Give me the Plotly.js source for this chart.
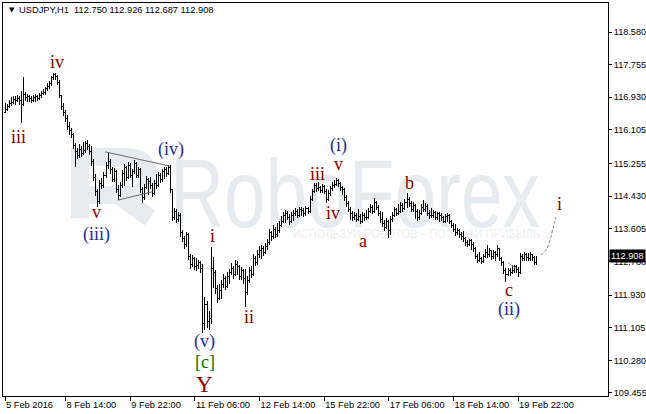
<!DOCTYPE html>
<html><head><meta charset="utf-8">
<script src="https://cdn.plot.ly/plotly-3.0.1.min.js"></script>
<style>html,body{margin:0;padding:0;background:#fff;}#chart{width:646px;height:414px;}.ohlc path{shape-rendering:crispEdges;}</style>
</head><body><div id="chart"></div>
<script>
// ---------- DATA ----------
const symbolName = "USDJPY,H1";
const lastQuote = [112.750, 112.926, 112.687, 112.908]; // open, high, low, close of the last bar

const barOpen = [
116.55,116.62,116.70,116.78,116.80,116.88,116.84,116.90,116.86,116.75,
117.00,116.92,116.95,116.90,116.86,116.92,116.95,116.90,116.98,117.02,
117.05,117.15,117.20,117.28,117.42,117.50,117.45,117.30,116.98,116.70,
116.55,116.40,116.20,116.10,115.98,115.70,115.55,115.45,115.62,115.50,
115.58,115.75,115.68,115.55,115.30,114.90,114.55,114.30,114.75,114.70,
114.95,115.20,115.30,115.10,114.85,115.05,114.60,114.45,114.70,115.00,
115.15,114.90,115.20,114.95,115.05,115.25,114.95,115.10,114.60,114.40,
114.65,114.85,114.80,114.70,114.50,114.75,114.70,114.95,114.85,115.05,
115.10,115.00,115.15,114.60,113.90,114.05,113.85,113.95,113.50,113.35,
113.20,113.45,112.90,112.70,112.85,112.65,112.68,112.75,112.60,111.20,
111.70,111.25,111.35,112.60,112.50,112.10,111.85,112.05,112.20,112.35,
112.15,112.40,112.50,112.60,112.45,112.70,112.65,112.40,112.55,112.35,
112.00,112.30,112.55,112.45,112.85,112.75,112.95,113.05,113.10,113.00,
113.15,113.25,113.50,113.40,113.60,113.45,113.55,113.70,113.80,113.95,
114.00,113.90,113.80,113.95,114.00,114.05,113.95,114.10,114.08,113.98,
114.12,114.05,114.35,114.55,114.70,114.62,114.65,114.58,114.68,114.55,
114.35,114.50,114.62,114.70,114.72,114.82,114.75,114.65,114.60,114.40,
114.25,114.10,114.00,113.88,113.95,113.85,113.92,113.80,113.95,113.88,
113.90,114.05,114.15,114.05,114.28,114.15,114.00,113.85,113.75,113.65,
113.80,113.55,113.85,113.95,114.10,114.00,114.05,114.20,114.12,114.28,
114.35,114.25,114.10,114.20,114.05,113.90,114.00,114.15,114.10,114.18,
114.00,113.95,113.95,114.02,113.90,113.98,113.95,113.88,113.80,113.92,
113.95,113.80,113.70,113.60,113.50,113.55,113.45,113.40,113.35,113.25,
113.20,113.30,113.22,113.10,112.90,112.80,112.85,112.78,112.90,113.00,
112.95,113.05,112.90,113.00,112.95,113.10,112.85,112.75,112.55,112.45,
112.55,112.50,112.55,112.65,112.58,112.50,112.90,112.85,112.95,112.88,
112.85,112.95,112.88,112.750];

const barHigh = [
116.78,116.76,116.86,116.94,116.96,116.95,117.00,116.96,117.08,117.44,
117.06,117.02,117.00,116.96,116.99,117.02,117.00,117.04,117.08,117.15,
117.20,117.28,117.34,117.48,117.55,117.54,117.50,117.36,117.00,116.78,
116.62,116.48,116.30,116.15,116.02,115.78,115.66,115.75,115.70,115.80,
115.82,115.84,115.74,115.70,115.36,114.98,114.62,114.84,114.88,115.04,
115.30,115.55,115.38,115.16,115.14,115.10,114.72,114.78,115.10,115.24,
115.20,115.30,115.26,115.12,115.34,115.30,115.18,115.14,114.66,114.74,
114.94,114.90,114.92,114.76,114.84,115.00,115.04,115.02,115.12,115.18,
115.16,115.22,115.22,114.62,114.12,114.10,114.04,114.00,113.58,113.42,
113.52,113.50,112.98,112.94,112.90,112.86,112.82,112.80,112.72,111.88,
111.78,111.52,113.14,112.89,112.56,112.18,112.20,112.30,112.46,112.42,
112.52,112.58,112.74,112.66,112.82,112.78,112.70,112.64,112.60,112.60,
112.40,112.64,112.66,112.96,112.92,113.06,113.16,113.20,113.16,113.24,
113.34,113.60,113.56,113.70,113.66,113.75,113.80,113.92,114.04,114.08,
114.06,113.98,114.04,114.08,114.14,114.10,114.16,114.16,114.12,114.18,
114.16,114.44,114.62,114.76,114.76,114.78,114.70,114.74,114.72,114.60,
114.58,114.70,114.78,114.84,114.89,114.86,114.80,114.70,114.64,114.46,
114.30,114.16,114.06,114.04,114.00,114.10,113.98,114.04,114.00,114.08,
114.12,114.24,114.20,114.38,114.32,114.20,114.06,114.02,113.82,113.88,
113.84,113.94,114.04,114.16,114.14,114.24,114.28,114.26,114.36,114.51,
114.40,114.30,114.28,114.24,114.10,114.08,114.22,114.33,114.26,114.22,
114.08,114.12,114.08,114.06,114.04,114.02,114.00,113.94,113.98,114.00,
113.98,113.84,113.76,113.72,113.62,113.60,113.52,113.56,113.40,113.32,
113.36,113.34,113.26,113.14,112.96,113.02,112.90,112.98,113.10,113.20,
113.12,113.08,113.08,113.04,113.20,113.12,112.90,112.80,112.62,112.62,
112.62,112.68,112.70,112.69,112.64,113.00,112.98,113.02,113.00,113.00,
113.02,112.98,112.92,112.926];

const barLow = [
116.52,116.58,116.66,116.72,116.76,116.74,116.80,116.74,116.28,116.72,
116.84,116.80,116.82,116.78,116.82,116.81,116.84,116.86,116.92,116.98,
117.00,117.10,117.14,117.22,117.36,117.36,117.24,116.90,116.62,116.45,
116.30,116.10,115.98,115.90,115.62,115.17,115.36,115.40,115.42,115.46,
115.52,115.60,115.46,115.20,114.82,114.44,114.15,114.24,114.60,114.64,
114.90,115.12,115.00,114.78,114.80,114.50,114.33,114.40,114.64,114.70,
114.82,114.86,114.88,114.66,115.00,114.88,114.90,114.52,114.25,114.34,
114.60,114.46,114.62,114.41,114.46,114.62,114.66,114.76,114.80,114.86,
114.92,114.96,114.51,113.80,113.84,113.76,113.78,113.40,113.26,113.10,
113.14,112.82,112.60,112.64,112.56,112.55,112.60,112.49,110.97,111.05,
111.10,111.05,111.20,112.10,111.96,111.73,111.80,111.82,112.12,112.06,
112.10,112.20,112.44,112.34,112.40,112.44,112.30,112.32,112.22,111.63,
111.92,112.24,112.36,112.40,112.66,112.70,112.88,112.84,112.92,112.96,
113.08,113.20,113.30,113.36,113.38,113.40,113.50,113.64,113.74,113.76,
113.82,113.70,113.74,113.80,113.94,113.88,113.90,113.92,113.90,113.94,
113.98,114.00,114.30,114.50,114.54,114.56,114.51,114.52,114.48,114.26,
114.30,114.44,114.56,114.64,114.68,114.66,114.56,114.46,114.32,114.16,
114.02,113.83,113.80,113.82,113.78,113.80,113.72,113.76,113.80,113.84,
113.86,114.00,113.98,114.00,114.08,113.92,113.76,113.66,113.56,113.60,
113.37,113.46,113.78,113.90,113.92,113.96,114.00,114.04,114.08,114.14,
114.16,114.02,114.04,113.86,113.80,113.84,113.96,114.02,114.04,113.92,
113.86,113.88,113.88,113.82,113.84,113.78,113.80,113.74,113.76,113.78,
113.72,113.62,113.52,113.42,113.44,113.38,113.32,113.28,113.18,113.14,
113.16,113.08,113.02,112.84,112.74,112.76,112.72,112.74,112.86,112.88,
112.90,112.82,112.84,112.78,112.90,112.78,112.66,112.46,112.26,112.40,
112.42,112.46,112.50,112.50,112.39,112.46,112.78,112.80,112.80,112.78,
112.80,112.80,112.68,112.687];

const barClose = [
116.62,116.70,116.78,116.80,116.88,116.84,116.90,116.86,116.75,117.00,
116.92,116.95,116.90,116.86,116.92,116.95,116.90,116.98,117.02,117.05,
117.15,117.20,117.28,117.42,117.50,117.45,117.30,116.98,116.70,116.55,
116.40,116.20,116.10,115.98,115.70,115.55,115.45,115.62,115.50,115.58,
115.75,115.68,115.55,115.30,114.90,114.55,114.30,114.75,114.70,114.95,
115.20,115.30,115.10,114.85,115.05,114.60,114.45,114.70,115.00,115.15,
114.90,115.20,114.95,115.05,115.25,114.95,115.10,114.60,114.40,114.65,
114.85,114.80,114.70,114.50,114.75,114.70,114.95,114.85,115.05,115.10,
115.00,115.15,114.60,113.90,114.05,113.85,113.95,113.50,113.35,113.20,
113.45,112.90,112.70,112.85,112.65,112.68,112.75,112.60,111.20,111.70,
111.25,111.35,112.60,112.50,112.10,111.85,112.05,112.20,112.35,112.15,
112.40,112.50,112.60,112.45,112.70,112.65,112.40,112.55,112.35,112.00,
112.30,112.55,112.45,112.85,112.75,112.95,113.05,113.10,113.00,113.15,
113.25,113.50,113.40,113.60,113.45,113.55,113.70,113.80,113.95,114.00,
113.90,113.80,113.95,114.00,114.05,113.95,114.10,114.08,113.98,114.12,
114.05,114.35,114.55,114.70,114.62,114.65,114.58,114.68,114.55,114.35,
114.50,114.62,114.70,114.72,114.82,114.75,114.65,114.60,114.40,114.25,
114.10,114.00,113.88,113.95,113.85,113.92,113.80,113.95,113.88,113.90,
114.05,114.15,114.05,114.28,114.15,114.00,113.85,113.75,113.65,113.80,
113.55,113.85,113.95,114.10,114.00,114.05,114.20,114.12,114.28,114.35,
114.25,114.10,114.20,114.05,113.90,114.00,114.15,114.10,114.18,114.00,
113.95,113.95,114.02,113.90,113.98,113.95,113.88,113.80,113.92,113.95,
113.80,113.70,113.60,113.50,113.55,113.45,113.40,113.35,113.25,113.20,
113.30,113.22,113.10,112.90,112.80,112.85,112.78,112.90,113.00,112.95,
113.05,112.90,113.00,112.95,113.10,112.85,112.75,112.55,112.45,112.55,
112.50,112.55,112.65,112.58,112.50,112.90,112.85,112.95,112.88,112.85,
112.95,112.88,112.75,112.908];

// time-axis labels (bar index of each label) and price-axis ticks
const timeTickBars = [0, 30, 62, 94, 126, 158, 190, 222, 254];
const timeTickLabels = ["5 Feb 2016","8 Feb 14:00","9 Feb 22:00","11 Feb 06:00","12 Feb 14:00","15 Feb 22:00","17 Feb 06:00","18 Feb 14:00","19 Feb 22:00"];
const priceTicks = [109.455,110.280,111.105,111.930,112.780,113.605,114.430,115.255,116.105,116.930,117.755,118.580];

// wave-count labels: text, bar index, price
const waveText  = ["iii","iv","v","(iii)","(iv)","i","(v)","[c]","Y","ii","(i)","iii","v","iv","a","b","c","(ii)","i"];
const waveBar   = [6.9,25.7,45.5,45.5,82.2,102.5,99.0,99.0,99.0,120.8,164.9,154.5,165.3,162.4,177.2,200.0,249.5,249.5,274.3];
const wavePrice = [115.93,117.82,114.03,113.46,115.61,113.42,110.76,110.23,109.68,111.38,115.71,114.99,115.24,114.00,113.30,114.76,112.05,111.57,114.23];
const waveDegree= ["m","m","m","p","p","m","p","g","y","m","p","m","m","m","m","m","m","p","m"];

// drawn lines (bar index, price)
const triUpperBar = [49.5, 81.7],  triUpperPrice = [115.55, 115.19];
const triLowerBar = [55.9, 72.8],  triLowerPrice = [114.33, 114.54];
const fcBar   = [265.3, 267.8, 269.8, 271.3, 272.8];
const fcPrice = [112.94, 113.07, 113.32, 113.62, 113.90];
const smallBar = [249, 253], smallPrice = [112.74, 112.61];

// watermark
const brandText = "RoboForex";
const sloganText = "ИСПОЛЬЗУЙ РОБОТОВ – ПОЛУЧАЙ ПРИБЫЛЬ";

// ---------- CHART ----------
const barIdx = barClose.map((_, i) => i);
const L = 3, T = 3, W = 605, H = 393;
const px = x => (x - L) / W;
const py = y => 1 - (y - T) / H;

const RED = '#8b0000', BLUE = '#1f2d96', GREEN = '#007000';
const degreeColor = {m: RED, p: BLUE, g: GREEN, y: RED};

const traces = [
  {type:'ohlc', x:barIdx, open:barOpen, high:barHigh, low:barLow, close:barClose,
   increasing:{line:{color:'#000', width:1}}, decreasing:{line:{color:'#000', width:1}},
   tickwidth:0.5, hoverinfo:'skip', showlegend:false},
  {type:'scatter', mode:'lines', x:triUpperBar, y:triUpperPrice, line:{color:'#6e6e6e', width:1}, hoverinfo:'skip', showlegend:false},
  {type:'scatter', mode:'lines', x:triLowerBar, y:triLowerPrice, line:{color:'#6e6e6e', width:1}, hoverinfo:'skip', showlegend:false},
  {type:'scatter', mode:'lines', x:fcBar, y:fcPrice, line:{color:'#808080', width:1, dash:'3px,2px', shape:'spline'}, hoverinfo:'skip', showlegend:false},
  {type:'scatter', mode:'lines', x:smallBar, y:smallPrice, line:{color:'#909090', width:1}, hoverinfo:'skip', showlegend:false}
];

const annotations = waveText.map((t, k) => ({
  x: waveBar[k], y: wavePrice[k], xref:'x', yref:'y', text: t, showarrow:false,
  xanchor:'center', yanchor:'middle',
  font:{family:'Liberation Serif, Times New Roman, serif', size: waveDegree[k]==='y' ? 23 : 18, color: degreeColor[waveDegree[k]]}
}));

annotations.push(
  {xref:'paper', yref:'paper', x:px(7), y:py(10.5), xanchor:'left', yanchor:'middle', showarrow:false,
   text:'\u25BC', font:{family:'DejaVu Sans, sans-serif', size:7, color:'#000'}},
  {xref:'paper', yref:'paper', x:px(17), y:py(10), xanchor:'left', yanchor:'middle', showarrow:false,
   text: symbolName + '\u00a0\u00a0' + lastQuote.map(v => v.toFixed(3)).join(' '),
   font:{family:'Liberation Sans, Arial, sans-serif', size:9.3, color:'#000'}},
  {xref:'paper', yref:'y', x:1, xshift:1, y:lastQuote[3], xanchor:'left', yanchor:'middle', showarrow:false,
   text: lastQuote[3].toFixed(3), bgcolor:'#000', borderpad:1,
   font:{family:'Liberation Sans, Arial, sans-serif', size:9.2, color:'#fff'}}
);

const WM = '#e7eaee';
const shapes = [
  {type:'rect', xref:'paper', yref:'paper', x0:px(160), x1:px(550), y0:py(232), y1:py(136), layer:'below',
   line:{width:0}, fillcolor:'rgba(0,0,0,0)',
   label:{text:brandText, textposition:'middle center', padding:0,
          font:{family:'Liberation Sans, Arial, sans-serif', size:96, color:WM}}},
  {type:'rect', xref:'paper', yref:'paper', x0:px(285), x1:px(548), y0:py(240), y1:py(225), layer:'below',
   line:{width:0}, fillcolor:'rgba(0,0,0,0)',
   label:{text:sloganText, textposition:'middle center', padding:0,
          font:{family:'Liberation Sans, Arial, sans-serif', size:13, color:'#eceff2'}}},
  {type:'path', xref:'paper', yref:'paper', layer:'below', line:{color:WM, width:18}, fillcolor:'rgba(0,0,0,0)',
   path:`M${px(80)},${py(218)} L${px(80)},${py(157)} L${px(126)},${py(157)} Q${px(148)},${py(157)} ${px(148)},${py(176)} Q${px(148)},${py(195)} ${px(126)},${py(195)} L${px(88)},${py(195)} M${px(118)},${py(195)} L${px(150)},${py(218)}`}
];

const layout = {
  width:646, height:414,
  margin:{l:L, r:646 - L - W, t:T, b:414 - T - H, pad:0},
  paper_bgcolor:'#fff', plot_bgcolor:'#fff', showlegend:false,
  font:{family:'Liberation Sans, Arial, sans-serif', size:9.3, color:'#000'},
  xaxis:{range:[-0.99, 298.5], tickmode:'array', tickvals:timeTickBars, ticktext:timeTickLabels,
         ticks:'outside', ticklen:4, tickcolor:'#000', tickwidth:1, ticklabelposition:'outside right',
         showgrid:false, zeroline:false, showline:true, mirror:true, linecolor:'#000', linewidth:1,
         rangeslider:{visible:false}, fixedrange:true, tickfont:{size:9.3, color:'#000'}},
  yaxis:{side:'right', range:[109.379, 119.313], tickmode:'array', tickvals:priceTicks,
         ticktext:priceTicks.map(v => v.toFixed(3)), ticks:'outside', ticklen:3, tickcolor:'#000', tickwidth:1,
         showgrid:false, zeroline:false, showline:true, mirror:true, linecolor:'#000', linewidth:1,
         fixedrange:true, tickfont:{size:9.1, color:'#000'}},
  annotations: annotations,
  shapes: shapes
};

Plotly.newPlot('chart', traces, layout, {displayModeBar:false, staticPlot:true}).then(() => {
  // fit the watermark texts to the width they occupy in the original
  const fits = {};
  fits[brandText] = 370;
  fits[sloganText] = 247;
  document.querySelectorAll('#chart text').forEach(el => {
    const w = fits[el.textContent];
    if (w) { el.setAttribute('textLength', w); el.setAttribute('lengthAdjust', 'spacingAndGlyphs'); }
  });
});
</script>
</body></html>
